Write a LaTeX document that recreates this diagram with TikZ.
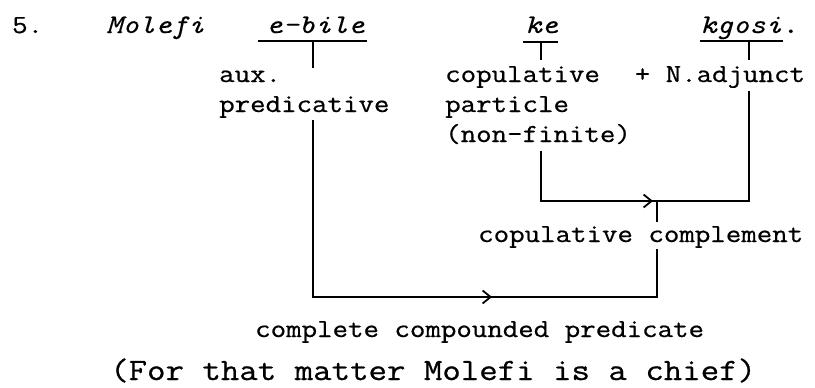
\documentclass[tikz,border=0pt]{standalone}
\usepackage{fontspec}
\newfontfamily\twfont{Latin Modern Mono}[FakeBold=0.7,FakeStretch=1.156]
\newfontfamily\twitfont{Latin Modern Mono}[FakeBold=0.3,FakeStretch=1.156]
\usetikzlibrary{arrows.meta}
\begin{document}
\begin{tikzpicture}[x=1pt,y=-1pt,
  tw/.style={inner sep=0pt, anchor=base west, font=\twfont\fontsize{26}{30}\selectfont},
  twi/.style={tw, font=\twitfont\itshape\fontsize{27}{30}\selectfont},
  big/.style={tw, font=\twfont\fontsize{31}{36}\selectfont},
  ln/.style={line width=2.2pt},
  ul/.style={line width=1.8pt},
  arr/.style={line width=2.2pt, -{Straight Barb[length=8pt,width=13pt,line width=1.8pt]}}]
\useasboundingbox (0,0) rectangle (815,388);
% words
\node[tw]  (five)   at (12,33)  {5.};
\node[twi] (molefi) at (106,33) {Molefi};
\node[twi] (ebile)  at (266,33) {e-bile};
\node[twi] (ke)     at (525,33) {ke};
\node[twi] (kgosi)  at (700,33) {kgosi.};
% labels
\node[tw] (aux)    at (219,82)  {aux.};
\node[tw] (pred)   at (219,112) {predicative};
\node[tw] (cop)    at (445,82)  {copulative};
\node[tw] (nadj)   at (634.6,82) {+ N.adjunct};
\node[tw] (part)   at (445,112) {particle};
\node[tw] (nonfin) at (445,142) {(non-finite)};
\node[tw] (copcomp) at (478,242) {copulative complement};
\node[tw] (ccp)    at (255,337) {complete compounded predicate};
\node[big] (trans) at (110,380) {(For that matter Molefi is a chief)};
% coordinates
\coordinate (ebL) at (258,41); \coordinate (ebR) at (367,41);
\coordinate (ebT) at (313,41); \coordinate (ebB) at (313,68);
\coordinate (keL) at (523,42); \coordinate (keR) at (558,42);
\coordinate (keT) at (541,42); \coordinate (keB) at (541,60);
\coordinate (kgL) at (700,41); \coordinate (kgR) at (783,41);
\coordinate (kgT) at (749,41); \coordinate (kgB) at (749,60);
\coordinate (predD) at (313,120);
\coordinate (predC) at (313,297);
\coordinate (predA) at (492,297);
\coordinate (ccC) at (657,297);
\coordinate (nfD) at (541,151);
\coordinate (nfC) at (541,201);
\coordinate (nfA) at (653,201);
\coordinate (naD) at (749,91);
\coordinate (naC) at (749,201);
\coordinate (ccJ) at (657,201);
\coordinate (ccU) at (657,222);
\coordinate (ccL) at (657,249);
% underlines and ticks
\draw[ul] (ebL) -- (ebR);
\draw[ul] (keL) -- (keR);
\draw[ul] (kgL) -- (kgR);
\draw[ln] (ebT) -- (ebB);
\draw[ln] (keT) -- (keB);
\draw[ln] (kgT) -- (kgB);
% connectors
\draw[ln] (nfD) -- (nfC) -- (naC) -- (naD);
\draw[arr] (nfC) -- (nfA);
\draw[ln] (ccJ) -- (ccU);
\draw[ln] (predD) -- (predC) -- (ccC) -- (ccL);
\draw[arr] (predC) -- (predA);
\end{tikzpicture}
\end{document}
